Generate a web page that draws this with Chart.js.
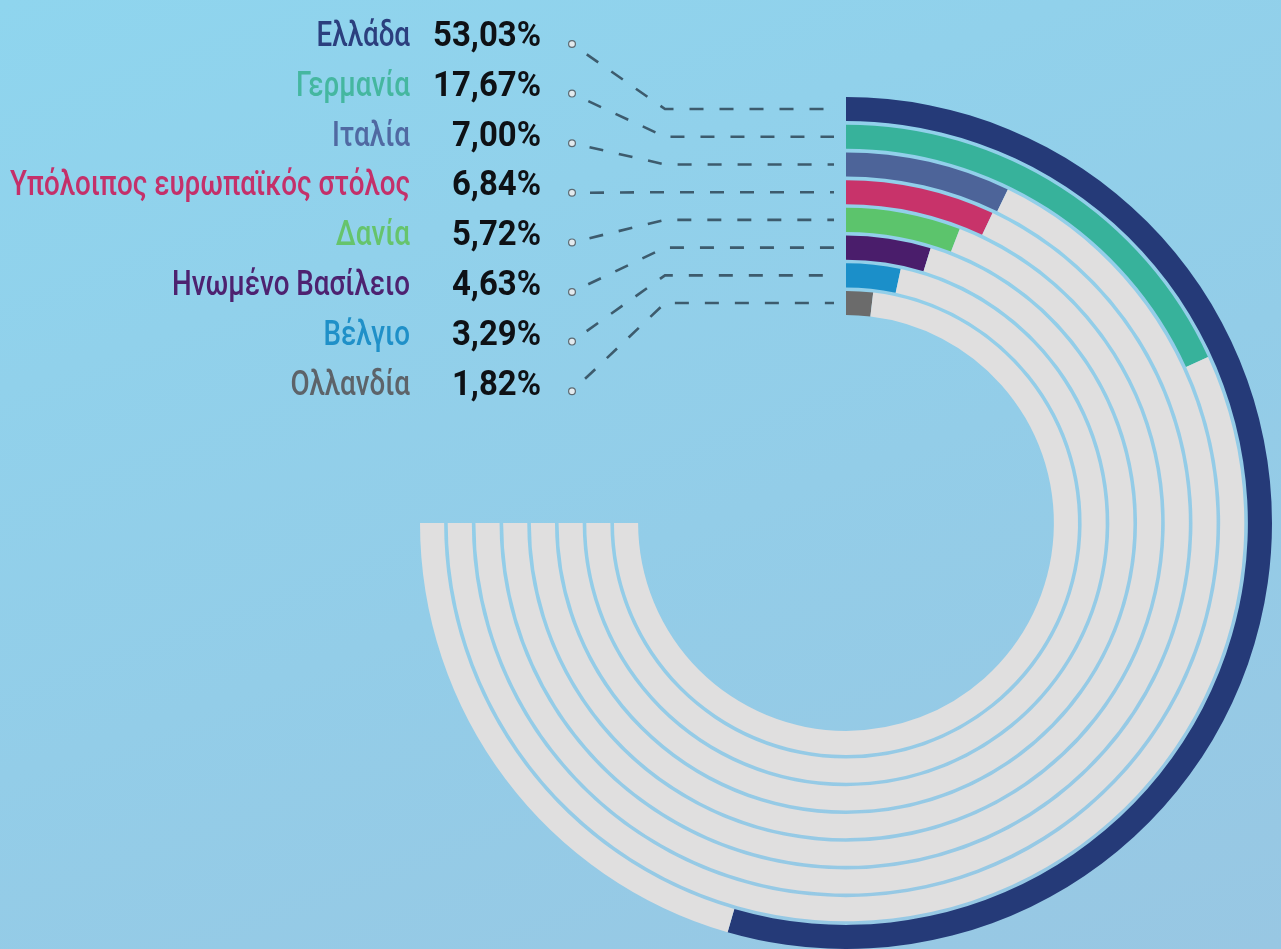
<!DOCTYPE html>
<html>
<head>
<meta charset="utf-8">
<script src="https://cdn.jsdelivr.net/npm/chart.js@4"></script>
<style>
  html, body { margin: 0; padding: 0; }
  body {
    width: 1281px; height: 949px; overflow: hidden;
    background: linear-gradient(160deg, #8fd5ee 0%, #93cde8 55%, #98c7e3 100%);
  }
  #wrap { position: relative; width: 1281px; height: 949px; }
</style>
</head>
<body>
<div id="wrap"><canvas id="fleetChart"></canvas></div>
<script>
// share of the fleet, percent
const countries = ['Ελλάδα', 'Γερμανία', 'Ιταλία', 'Υπόλοιπος ευρωπαϊκός στόλος', 'Δανία', 'Ηνωμένο Βασίλειο', 'Βέλγιο', 'Ολλανδία'];
const shares = [53.03, 17.67, 7.00, 6.84, 5.72, 4.63, 3.29, 1.82];
const ringColors = ['#253a78', '#37b29b', '#4d6499', '#c8336a', '#5cc46c', '#4a1d6b', '#1b8fc9', '#6b6b6b'];
const textColors = ['#2b3f7e', '#45b7a0', '#5069a2', '#c4306a', '#66c46c', '#4d2270', '#1f90c8', '#5d6369'];

const TRACK_MAX = 73;        // value that fills the 270 degree track
const TRACK_COLOR = '#e0dfdf';

var datasets = [];
countries.forEach(function (name, i) {
  datasets.push({
    label: name,
    data: [shares[i], TRACK_MAX - shares[i]],
    backgroundColor: [ringColors[i], TRACK_COLOR],
    weight: 24.1
  });
  if (i < countries.length - 1) {
    datasets.push({ label: 'gap', data: [1], backgroundColor: ['rgba(0,0,0,0)'], weight: 3.6 });
  }
});

function fmt(v) { return v.toFixed(2).replace('.', ','); }

const leaders = {
  id: 'leaders',
  afterDraw(chart) {
    var ctx = chart.ctx;
    var nameFont = '500 35px Roboto';
    var pctFont = 'bold 35px Roboto';

    ctx.save();
    ctx.font = nameFont;
    var nameScale = 400 / ctx.measureText(countries[3]).width;
    ctx.font = pctFont;
    var pctScale = 108 / ctx.measureText(fmt(shares[0]) + '%').width;
    ctx.restore();

    countries.forEach(function (name, i) {
      var base = 46 + i * 49.8;
      var dotY = 44 + i * 49.6;
      var dotX = 572;

      // labels
      ctx.save();
      ctx.translate(410, base);
      ctx.scale(nameScale, 1);
      ctx.font = nameFont;
      ctx.textAlign = 'right';
      ctx.textBaseline = 'alphabetic';
      ctx.fillStyle = textColors[i];
      ctx.fillText(name, 0, 0);
      ctx.restore();

      ctx.save();
      ctx.translate(541, base);
      ctx.scale(pctScale, 1);
      ctx.font = pctFont;
      ctx.textAlign = 'right';
      ctx.fillStyle = '#0e1115';
      ctx.fillText(fmt(shares[i]) + '%', 0, 0);
      ctx.restore();

      // leader line from the dot to the ring start
      var arc = chart.getDatasetMeta(i * 2).data[0];
      var ringY = arc.y - (arc.innerRadius + arc.outerRadius) / 2;
      var bendX = 665;
      var dx = bendX - dotX, dy = ringY - dotY;
      var len = Math.sqrt(dx * dx + dy * dy);
      var sx = dotX + dx / len * 18, sy = dotY + dy / len * 18;

      ctx.save();
      ctx.strokeStyle = '#3d5b6d';
      ctx.lineWidth = 2.6;
      ctx.setLineDash([14, 16]);
      ctx.beginPath();
      ctx.moveTo(sx, sy);
      ctx.lineTo(bendX, ringY);
      ctx.lineTo(arc.x - 12, ringY);
      ctx.stroke();
      ctx.restore();

      ctx.save();
      ctx.beginPath();
      ctx.arc(dotX, dotY, 3.4, 0, Math.PI * 2);
      ctx.fillStyle = '#e3eaee';
      ctx.fill();
      ctx.lineWidth = 1.2;
      ctx.strokeStyle = '#5d6a72';
      ctx.stroke();
      ctx.restore();
    });
  }
};

document.addEventListener("DOMContentLoaded", () => {
  var ctx = document.getElementById("fleetChart").getContext("2d");
  var fleetChart = new Chart(ctx, {
    type: 'doughnut',
    data: { labels: ['share', 'rest'], datasets },
    options: {
      responsive: true,
      maintainAspectRatio: false,
      animation: false,
      events: [],
      rotation: 0,
      circumference: 270,
      cutout: '48.8%',
      borderWidth: 0,
      layout: { padding: { left: 420, right: 9, top: 97, bottom: 0 } },
      plugins: { legend: { display: false }, tooltip: { enabled: false } }
    },
    plugins: [leaders]
  });
});
</script>
</body>
</html>
